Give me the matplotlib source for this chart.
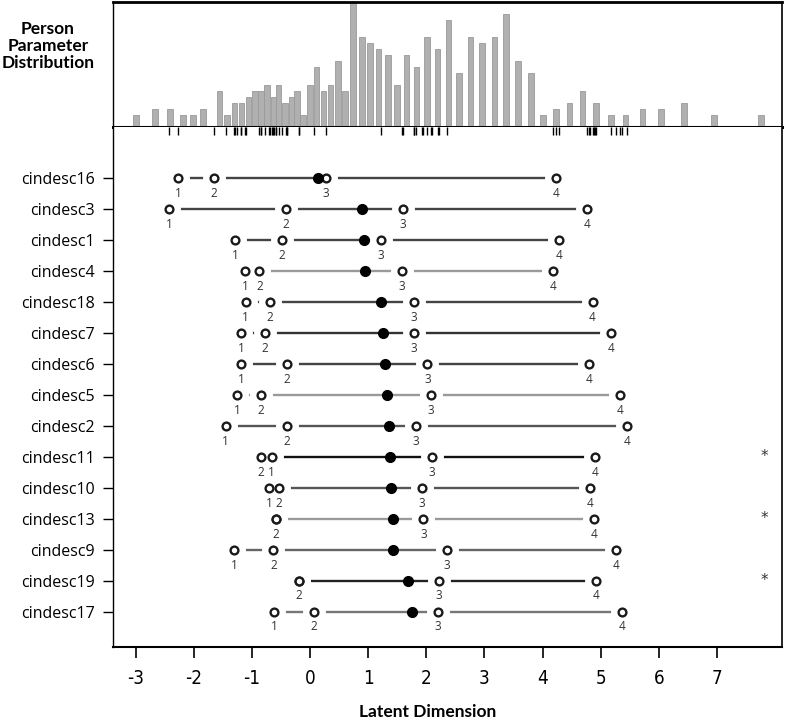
import matplotlib
matplotlib.use('Agg')
import matplotlib.pyplot as plt

# item thresholds (top row first)
items = ['cindesc16', 'cindesc3', 'cindesc1', 'cindesc4', 'cindesc18', 'cindesc7',
         'cindesc6', 'cindesc5', 'cindesc2', 'cindesc11', 'cindesc10', 'cindesc13',
         'cindesc9', 'cindesc19', 'cindesc17']
thr1 = [-2.27, -2.42, -1.29, -1.12, -1.11, -1.19, -1.19, -1.25, -1.45, -0.66, -0.70, -0.59, -1.30, -0.19, -0.62]
thr2 = [-1.65, -0.42, -0.49, -0.87, -0.69, -0.78, -0.40, -0.85, -0.40, -0.85, -0.54, -0.59, -0.63, -0.19, 0.07]
thr3 = [0.27, 1.60, 1.22, 1.58, 1.79, 1.79, 2.02, 2.08, 1.82, 2.09, 1.93, 1.95, 2.36, 2.22, 2.20]
thr4 = [4.24, 4.77, 4.28, 4.18, 4.86, 5.18, 4.80, 5.34, 5.46, 4.90, 4.81, 4.88, 5.27, 4.92, 5.37]
location = [0.14, 0.90, 0.93, 0.94, 1.22, 1.25, 1.29, 1.32, 1.36, 1.38, 1.39, 1.42, 1.42, 1.69, 1.75]
flagged = ['cindesc11', 'cindesc13', 'cindesc19']
line_grays = ['#444444', '#444444', '#444444', '#9a9a9a', '#444444', '#333333', '#444444', '#9a9a9a',
              '#555555', '#111111', '#555555', '#9a9a9a', '#666666', '#222222', '#777777']

# person parameter histogram
hist_x = [-2.99, -2.67, -2.41, -2.19, -2.01, -1.84, -1.56, -1.43, -1.30, -1.18, -1.06,
          -0.95, -0.84, -0.74, -0.63, -0.54, -0.43, -0.32, -0.22, -0.12, 0.00,
          0.11, 0.23, 0.35, 0.48, 0.60, 0.74, 0.89, 1.03, 1.18, 1.34,
          1.50, 1.66, 1.83, 2.01, 2.19, 2.38, 2.56, 2.76, 2.96, 3.17,
          3.37, 3.58, 3.80, 4.01, 4.23, 4.46, 4.69, 4.92, 5.18, 5.43,
          5.72, 6.04, 6.43, 6.95, 7.76]
hist_n = [2, 3, 3, 2, 2, 3, 6, 2, 4, 4, 5,
          6, 6, 7, 5, 7, 4, 5, 6, 2, 7,
          10, 6, 7, 11, 6, 21, 15, 14, 13, 12,
          7, 12, 10, 15, 13, 18, 9, 15, 14, 15,
          19, 11, 9, 2, 3, 4, 6, 4, 2, 2,
          3, 3, 4, 2, 2]

xticks = [-3, -2, -1, 0, 1, 2, 3, 4, 5, 6, 7]

W, H = 785, 722
fig = plt.figure(figsize=(W / 100, H / 100), dpi=100)
ax_h = fig.add_axes([113 / W, 1 - 126.7 / H, 669 / W, 125 / H])
ax = fig.add_axes([113 / W, 1 - 647 / H, 669 / W, (647 - 126.7) / H])

xlim = (-3.39, 8.12)

# --- histogram panel
ax_h.bar(hist_x, hist_n, width=0.095, color='#b0b0b0', edgecolor='#9a9a9a', linewidth=0.6)
ax_h.set_xlim(*xlim)
ax_h.set_ylim(0, 21)
ax_h.set_xticks([])
ax_h.set_yticks([])
for s, lw in [('top', 2.0), ('bottom', 2.2), ('left', 1.0), ('right', 1.2)]:
    ax_h.spines[s].set_linewidth(lw)
    ax_h.spines[s].set_color('black')

# --- item panel
n = len(items)
ys = [n - 1 - i for i in range(n)]

# rug of all thresholds just under the divider
all_thr = thr1 + thr2 + thr3 + thr4
ax.vlines(all_thr, 1 - 8 / 520, 1, colors='black', linewidth=1.0,
          transform=ax.get_xaxis_transform(), zorder=5)

for i in range(n):
    y = ys[i]
    t = [thr1[i], thr2[i], thr3[i], thr4[i]]
    ax.plot([min(t), max(t)], [y, y], color=line_grays[i], lw=1.7, solid_capstyle='butt', zorder=1)
    ax.plot(t, [y] * 4, 'o', ms=16.5, color='white', mec='none', zorder=2)
    ax.plot(t, [y] * 4, 'o', ms=5.6, mfc='white', mec='#1a1a1a', mew=1.7, zorder=3)
    ax.plot(location[i], y, 'o', ms=7, color='black', zorder=4)
    for k in range(4):
        # overlapping thresholds only show the later label
        if any(abs(t[k] - t[j]) < 0.03 for j in range(k + 1, 4)):
            continue
        ax.annotate(str(k + 1), (t[k], y), xytext=(0, -11), textcoords='offset points',
                    ha='center', va='center', fontsize=8.5, color='#333333', family='Open Sans')
    if items[i] in flagged:
        ax.text(7.81, y, '*', ha='center', va='center', fontsize=11, color='#333333')

ax.set_xlim(*xlim)
ax.set_ylim(-1.14, n - 1 + 1.657)
ax.set_yticks(ys)
ax.set_yticklabels(items, family='Open Sans', fontsize=11.5)
ax.set_xticks(xticks)
ax.set_xticklabels([str(v) for v in xticks], family='DejaVu Sans', fontstretch='condensed', fontsize=13.5)
ax.tick_params(axis='y', length=7, width=1.0, pad=6)
ax.tick_params(axis='x', length=8, width=1.2, pad=8)
ax.spines['top'].set_visible(False)
for s, lw in [('bottom', 1.5), ('left', 1.0), ('right', 1.2)]:
    ax.spines[s].set_linewidth(lw)

fig.text(48 / W, 1 - 46 / H, 'Person\nParameter\nDistribution', ha='center', va='center',
         fontsize=12.5, fontweight='bold', family='Lato', linespacing=1.1)
fig.text(428 / W, 1 - 712 / H, 'Latent Dimension', ha='center', va='center',
         fontsize=12.5, fontweight='bold', family='Lato')

fig.savefig('out.png', dpi=100)
